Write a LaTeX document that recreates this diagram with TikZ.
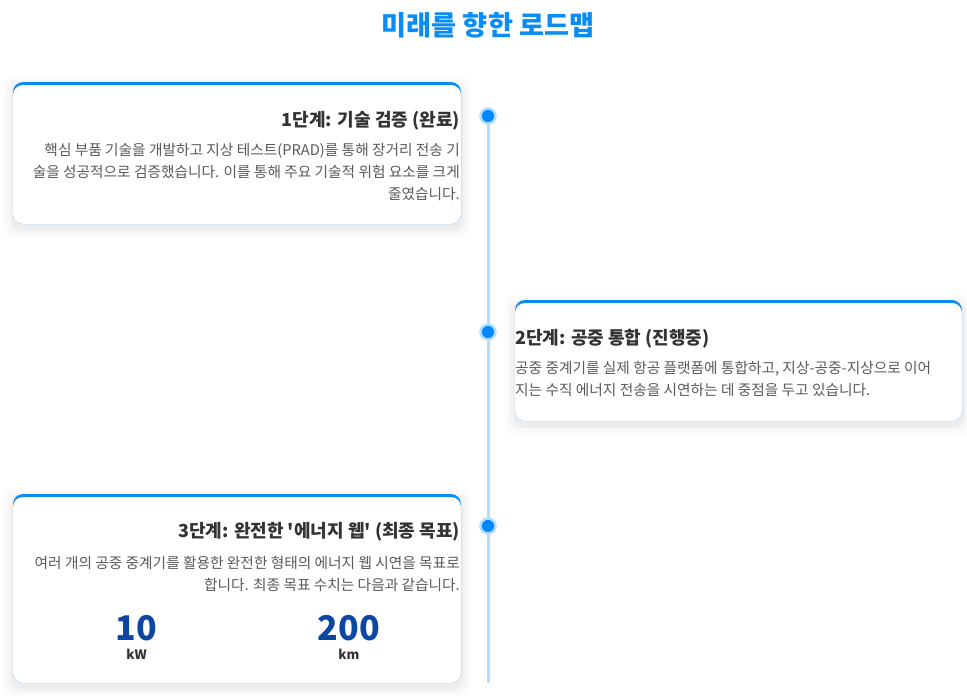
\documentclass[tikz,border=0pt]{standalone}
\usepackage{fontspec}
\setmainfont{Noto Sans CJK KR}
\usepackage{xcolor}
\usepackage{tikz}
\usetikzlibrary{calc}
\usetikzlibrary{positioning}

\definecolor{roadblue}{HTML}{0A8CF5}
\definecolor{dotblue}{HTML}{0088FF}
\definecolor{lineblue}{HTML}{B3DCFF}
\definecolor{statblue}{HTML}{0D47A1}
\definecolor{titlegray}{HTML}{333333}
\definecolor{bodygray}{HTML}{5A5A5A}

% card with soft shadow and blue top edge
\newcommand{\roadcard}[4]{%
  \foreach \s/\o in {10/0.012,7/0.016,4/0.02,2/0.024}
    \fill[black, opacity=\o, rounded corners=10pt]
      (#1-\s, #2-\s+4) rectangle (#3+\s, #4+\s+4);
  \fill[roadblue, rounded corners=10pt] (#1,#2) rectangle (#3,#4);
  \fill[white, rounded corners=10pt] (#1,#2+3) rectangle (#3,#4);
}

\begin{document}
\begin{tikzpicture}[x=1pt, y=-1pt]

        \def\lx{488}
        \def\g{8pt}

        \tikzset{
            cardtitle/.style={inner sep=0, text=titlegray,
                font=\bfseries\fontsize{18}{21}\selectfont},
            cardbody/.style={inner sep=0, text=bodygray,
                font=\fontsize{14.7}{22}\selectfont},
            statnum/.style={inner sep=0, text=statblue,
                font=\bfseries\fontsize{34}{36}\selectfont},
            statunit/.style={inner sep=0, text=titlegray,
                font=\bfseries\fontsize{13}{15}\selectfont},
            stagedot/.style={circle, fill=dotblue, draw=lineblue,
                line width=2.5pt, minimum size=15pt, inner sep=0}
        }

        \useasboundingbox (0,0) rectangle (967,696);

        \node[text=roadblue, font=\bfseries\fontsize{27.2}{30}\selectfont]
            (title) at (\lx,25) {미래를 향한 로드맵};

        % the three cards
        \roadcard{13}{82}{461}{224}
        \roadcard{515}{300}{962}{421}
        \roadcard{13}{494}{461}{683}

        % timeline
        \coordinate (L0) at (\lx,116);
        \coordinate (Lend) at (\lx,683);
        \draw[lineblue, line width=3pt] (L0) -- (Lend);

        \node[stagedot] (S1) at (L0) {};
        \node[stagedot] (S2) at (\lx,332) {};
        \node[stagedot] (S3) at (\lx,526) {};

        \begin{scope}
            \node[cardtitle, anchor=north east] (T1) at (460,111)
            {1단계: 기술 검증 (완료)};
            \node[cardbody, anchor=north east, align=right] (B1) at (460,143)
            {핵심 부품 기술을 개발하고 지상 테스트(PRAD)를 통해 장거리 전송 기\\
             술을 성공적으로 검증했습니다. 이를 통해 주요 기술적 위험 요소를 크게\\
             줄였습니다.};

            \node[cardtitle, anchor=north west] (T2) at (515,329)
            {2단계: 공중 통합 (진행중)};
            \node[cardbody, anchor=north west, align=left] (B2) at (515,361)
            {공중 중계기를 실제 항공 플랫폼에 통합하고, 지상-공중-지상으로 이어\\
             지는 수직 에너지 전송을 시연하는 데 중점을 두고 있습니다.};

            \node[cardtitle, anchor=north east] (T3) at (460,522)
            {3단계: 완전한 \textquotesingle 에너지 웹\textquotesingle{} (최종 목표)};
            \node[cardbody, anchor=north east, align=right] (B3) at (460,556)
            {여러 개의 공중 중계기를 활용한 완전한 형태의 에너지 웹 시연을 목표로\\
             합니다. 최종 목표 수치는 다음과 같습니다.};
        \end{scope}

        % final targets
        \node[statnum] (N1) at (136.5,628) {10};
        \node[statunit] (U1) [below=\g of N1] {kW};
        \node[statnum] (N2) at (349,628) {200};
        \node[statunit] (U2) [below=\g of N2] {km};

\end{tikzpicture}
\end{document}
